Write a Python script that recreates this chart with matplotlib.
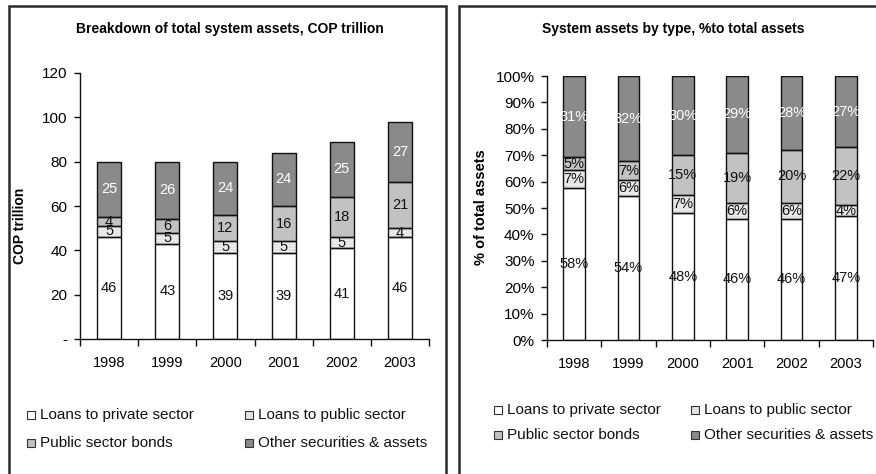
import numpy as np
import matplotlib
matplotlib.use("Agg")
import matplotlib.pyplot as plt
from matplotlib.patches import Rectangle
from matplotlib.ticker import FuncFormatter

plt.rcParams['font.family'] = ['Liberation Sans', 'DejaVu Sans']
plt.rcParams['hatch.linewidth'] = 0.6

years = ['1998', '1999', '2000', '2001', '2002', '2003']
series = ['Loans to private sector', 'Loans to public sector',
          'Public sector bonds', 'Other securities & assets']

# COP trillion
private_loans = [46, 43, 39, 39, 41, 46]
public_loans = [5, 5, 5, 5, 5, 4]
public_bonds = [4, 6, 12, 16, 18, 21]
other_assets = [25, 26, 24, 24, 25, 27]

# % of total assets
private_pct = [58, 54, 48, 46, 46, 47]
public_loans_pct = [7, 6, 7, 6, 6, 4]
public_bonds_pct = [5, 7, 15, 19, 20, 22]
other_pct = [31, 32, 30, 29, 28, 27]

fills = ['#ffffff', '#e2e2e2', '#c2c2c2', '#8a8a8a']
label_colors = ['#111111', '#111111', '#111111', '#ffffff']

W, H = 876, 474
fig = plt.figure(figsize=(W / 100, H / 100), dpi=100)


def px_axes(x0, y0, x1, y1):
    return fig.add_axes([x0 / W, 1 - y1 / H, (x1 - x0) / W, (y1 - y0) / H])


def stacked(ax, layers, labels, width, fmt):
    x = np.arange(len(years))
    bottom = np.zeros(len(years))
    for i, (vals, labs) in enumerate(zip(layers, labels)):
        vals = np.asarray(vals, dtype=float)
        ax.bar(x, vals, width, bottom=bottom, color=fills[i], linewidth=0, zorder=2)
        if i == 1:
            ax.bar(x, vals, width, bottom=bottom, fill=False, edgecolor='#f6f6f6',
                   hatch='------', linewidth=0, zorder=2.1)
        ax.bar(x, vals, width, bottom=bottom, fill=False, edgecolor='#111111',
               linewidth=1.0, zorder=3)
        for xi, b, v, lab in zip(x, bottom, vals, labs):
            ax.text(xi, b + v / 2, fmt(lab), ha='center', va='center',
                    fontsize=10.5, color=label_colors[i], zorder=4)
        bottom = bottom + vals

    ax.set_xlim(-0.5, len(years) - 0.5)
    ax.set_xticks(x)
    ax.set_xticklabels(years, fontsize=10.5)
    ax.set_xticks(np.arange(-0.5, len(years)), minor=True)
    ax.tick_params(axis='x', which='major', length=0, pad=12)
    ax.tick_params(axis='x', which='minor', length=5, width=1, color='#111111')
    ax.tick_params(axis='y', length=4, width=1, color='#111111', labelsize=11, pad=5)
    for s in ['top', 'right']:
        ax.spines[s].set_visible(False)
    for s in ['left', 'bottom']:
        ax.spines[s].set_color('#111111')
        ax.spines[s].set_linewidth(1)


def legend(x_cols, y_rows, size=11):
    order = [(0, 0, 0), (1, 0, 1), (2, 1, 0), (3, 1, 1)]
    for i, r, c in order:
        x, y = x_cols[c], y_rows[r]
        fig.patches.append(Rectangle(((x - 4) / W, 1 - (y + 4) / H), 8 / W, 8 / H,
                                     transform=fig.transFigure, facecolor=fills[i],
                                     edgecolor='#333333', linewidth=0.8))
        fig.text((x + 9) / W, 1 - y / H, series[i], fontsize=size,
                 ha='left', va='center', color='#111111')


# panel frames
fig.patches.append(Rectangle((9 / W, -0.05), (446 - 9) / W, 1.05 - 6 / H,
                             transform=fig.transFigure, fill=False,
                             edgecolor='#2a2a2a', linewidth=1.8))
fig.patches.append(Rectangle((459 / W, -0.05), 0.6, 1.05 - 6 / H,
                             transform=fig.transFigure, fill=False,
                             edgecolor='#2a2a2a', linewidth=1.8))

# left: absolute values
ax1 = px_axes(80, 73, 429, 339)
stacked(ax1, [private_loans, public_loans, public_bonds, other_assets],
        [private_loans, public_loans, public_bonds, other_assets], 0.41, str)
ax1.set_ylim(0, 120)
ax1.set_yticks(np.arange(0, 121, 20))
ax1.yaxis.set_major_formatter(FuncFormatter(lambda v, p: '-' if v == 0 else f'{v:.0f}'))
ax1.set_ylabel('COP trillion', fontsize=10, fontweight='bold')
ax1.yaxis.set_label_coords(-(80 - 27) / 349, (339 - 226) / 266)
fig.text(230 / W, 1 - 29 / H, 'Breakdown of total system assets, COP trillion',
         ha='center', va='center', fontsize=10, fontweight='bold')
legend([31, 249], [415, 443])

# right: shares of total
pct = np.array([private_pct, public_loans_pct, public_bonds_pct, other_pct], dtype=float)
shares = pct / pct.sum(axis=0) * 100
ax2 = px_axes(547, 76, 873, 340)
stacked(ax2, list(shares), list(pct.astype(int)), 0.4, lambda v: f'{v}%')
ax2.set_ylim(0, 100)
ax2.set_yticks(np.arange(0, 101, 10))
ax2.yaxis.set_major_formatter(FuncFormatter(lambda v, p: f'{v:.0f}%'))
ax2.set_ylabel('% of total assets', fontsize=10.5, fontweight='bold')
ax2.yaxis.set_label_coords(-(547 - 488) / 326, (340 - 207) / 264)
fig.text(673 / W, 1 - 29 / H, 'System assets by type, %to total assets',
         ha='center', va='center', fontsize=10, fontweight='bold')
legend([498, 695], [410, 435])

fig.savefig('out.png', dpi=100)
